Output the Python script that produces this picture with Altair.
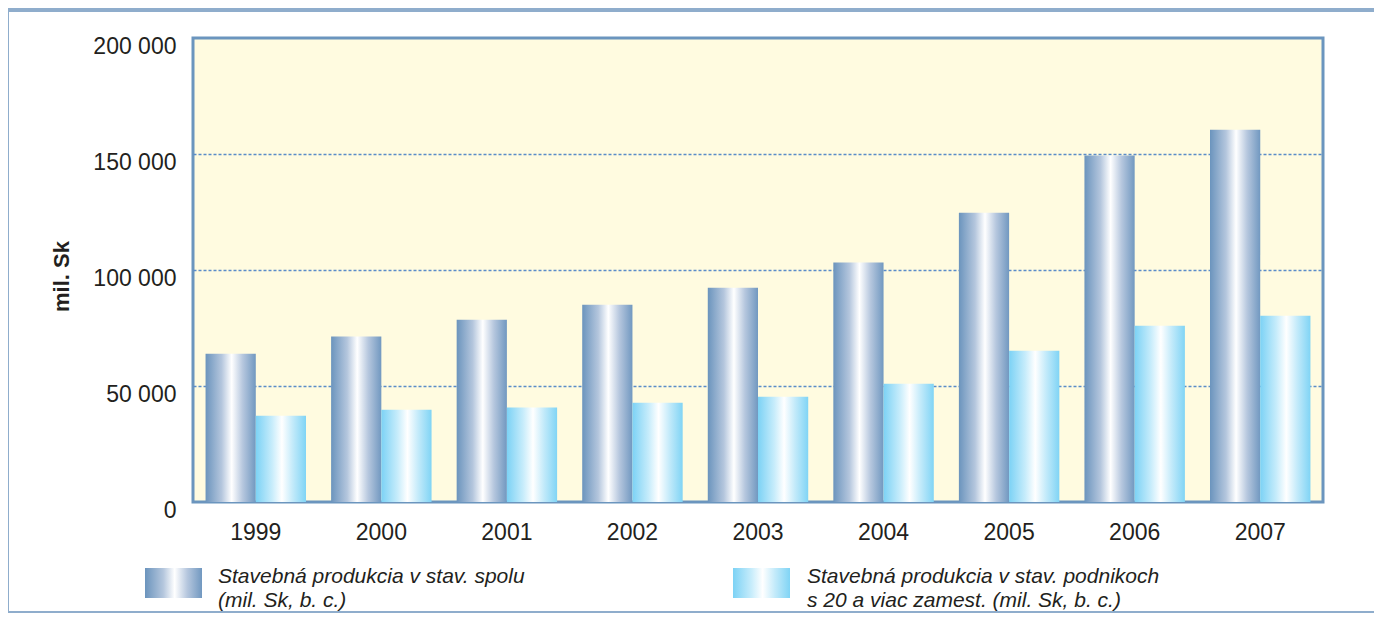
import altair as alt
import pandas as pd

# ---- data ----
years = ["1999", "2000", "2001", "2002", "2003", "2004", "2005", "2006", "2007"]
spolu = [63900, 71300, 78600, 85000, 92400, 103200, 124700, 149400, 160500]
podniky = [37200, 39800, 40700, 42800, 45400, 51000, 65200, 76000, 80300]
series = [
    "Stavebná produkcia v stav. spolu (mil. Sk, b. c.)",
    "Stavebná produkcia v stav. podnikoch s 20 a viac zamest. (mil. Sk, b. c.)",
]
legend_lines = [
    ["Stavebná produkcia v stav. spolu", "(mil. Sk, b. c.)"],
    ["Stavebná produkcia v stav. podnikoch", "s 20 a viac zamest. (mil. Sk, b. c.)"],
]
y_ticks = [0, 50000, 100000, 150000, 200000]
y_title = "mil. Sk"

df = pd.DataFrame({
    "year": years * 2,
    "series": [series[0]] * len(years) + [series[1]] * len(years),
    "value": spolu + podniky,
})
one = pd.DataFrame({"k": [0]})

FONT = "Liberation Sans, Arial, Helvetica, sans-serif"
TXT = "#231f20"
FRAME = "#8fadcc"

grad_dark = alt.Gradient(
    gradient="linear", x1=0, x2=1, y1=0, y2=0,
    stops=[
        alt.GradientStop(color="#6b94bd", offset=0),
        alt.GradientStop(color="#b4c6dd", offset=0.32),
        alt.GradientStop(color="#ffffff", offset=0.52),
        alt.GradientStop(color="#b6c7de", offset=0.74),
        alt.GradientStop(color="#7198c0", offset=1),
    ],
)
grad_light = alt.Gradient(
    gradient="linear", x1=0, x2=1, y1=0, y2=0,
    stops=[
        alt.GradientStop(color="#7cd2f5", offset=0),
        alt.GradientStop(color="#c6ecfb", offset=0.32),
        alt.GradientStop(color="#ffffff", offset=0.52),
        alt.GradientStop(color="#c2eafa", offset=0.74),
        alt.GradientStop(color="#80d4f5", offset=1),
    ],
)

x_enc = alt.X(
    "year:N", sort=years,
    scale=alt.Scale(paddingInner=0.2, paddingOuter=0.1),
    axis=alt.Axis(
        title=None, labelAngle=0, ticks=False, tickSize=0, domain=False,
        labelPadding=19, labelFontSize=23, labelFont=FONT, labelColor=TXT,
        grid=False,
    ),
)
xo_enc = alt.XOffset("series:N", scale=alt.Scale(domain=series, paddingInner=0, paddingOuter=0))
y_enc = alt.Y(
    "value:Q",
    scale=alt.Scale(domain=[0, 200000], nice=False, zero=True),
    axis=alt.Axis(
        values=y_ticks, title=y_title, titleFont=FONT, titleFontSize=22,
        titleFontWeight="bold", titleColor=TXT, titleAngle=270,
        titleX=-132, titleY=238, titleAlign="center", titleBaseline="middle",
        labelExpr="replace(format(datum.value, ',d'), ',', ' ')",
        labelFont=FONT, labelFontSize=23, labelColor=TXT, labelPadding=17,
        labelOffset=8, ticks=False, tickSize=0, domain=False,
        grid=True, gridDash=[3, 2], gridColor="#5a8cc8", gridWidth=1.6,
        gridOpacity={"condition": {"test": "datum.value == 0 || datum.value == 200000", "value": 0}, "value": 1},
    ),
)

bars_dark = alt.Chart(df).transform_filter(alt.datum.series == series[0]).mark_bar(
    fill=grad_dark
).encode(x=x_enc, xOffset=xo_enc, y=y_enc)

bars_light = alt.Chart(df).transform_filter(alt.datum.series == series[1]).mark_bar(
    fill=grad_light
).encode(x=x_enc, xOffset=xo_enc, y=y_enc)

# custom legend
sw1 = alt.Chart(one).mark_rect(fill=grad_dark).encode(
    x=alt.value(-48), x2=alt.value(9), y=alt.value(530), y2=alt.value(560))
sw2 = alt.Chart(one).mark_rect(fill=grad_light).encode(
    x=alt.value(540), x2=alt.value(597), y=alt.value(530), y2=alt.value(560))
tx1 = alt.Chart(one).mark_text(
    text=legend_lines[0], align="left", baseline="alphabetic", font=FONT,
    fontSize=21, fontStyle="italic", lineHeight=24, color=TXT,
).encode(x=alt.value(25), y=alt.value(545))
tx2 = alt.Chart(one).mark_text(
    text=legend_lines[1], align="left", baseline="alphabetic", font=FONT,
    fontSize=21, fontStyle="italic", lineHeight=24, color=TXT,
).encode(x=alt.value(614), y=alt.value(545))

# decorative frame
fr_top = alt.Chart(one).mark_rect(fill=FRAME).encode(
    x=alt.value(-185), x2=alt.value(1181), y=alt.value(-30), y2=alt.value(-26))
fr_left = alt.Chart(one).mark_rect(fill=FRAME).encode(
    x=alt.value(-185), x2=alt.value(-184), y=alt.value(-30), y2=alt.value(575))
fr_bot = alt.Chart(one).mark_rect(fill=FRAME).encode(
    x=alt.value(-185), x2=alt.value(1181), y=alt.value(573), y2=alt.value(575))

chart = alt.layer(
    bars_dark, bars_light, sw1, sw2, tx1, tx2, fr_top, fr_left, fr_bot
).properties(
    width=1130, height=464,
    autosize=alt.AutoSizeParams(type="none"),
    padding={"left": 185, "top": 30, "right": 51, "bottom": 111},
    background="white",
).configure_view(
    fill="#fffbe0", stroke="#6b95be", strokeWidth=3,
)

chart.save("out.html", embed_options={"renderer": "svg", "actions": False})
